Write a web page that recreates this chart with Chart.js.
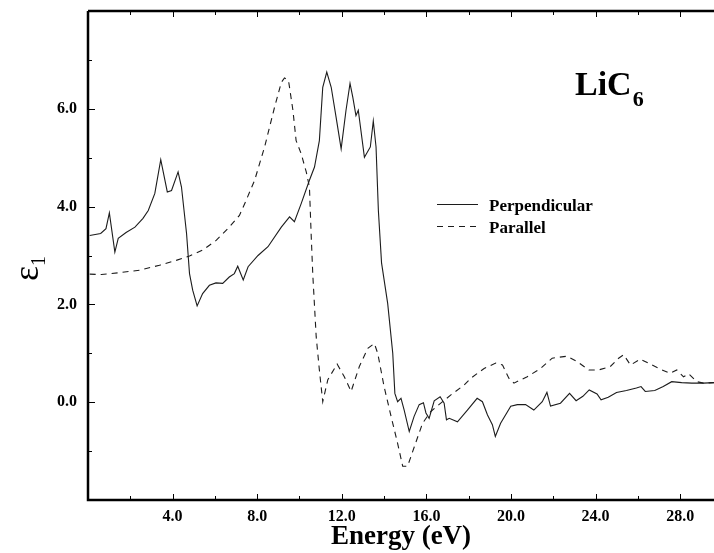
<!DOCTYPE html>
<html>
<head>
<meta charset="utf-8">
<script src="https://cdn.jsdelivr.net/npm/chart.js@4.4.1/dist/chart.umd.min.js"></script>
<style>
  html, body { margin: 0; padding: 0; background: #fff; }
</style>
</head>
<body>
<canvas id="eps" width="714" height="553"></canvas>
<script>

const perpEnergy = [0.08, 0.6, 0.85, 1.01, 1.27, 1.43, 1.8, 2.22, 2.6, 2.85, 3.16, 3.44, 3.75, 3.95, 4.26, 4.42, 4.66, 4.8, 4.95, 5.16,
  5.42, 5.74, 6.05, 6.37, 6.68, 6.92, 7.08, 7.34, 7.57, 8.04, 8.51, 9.14, 9.53, 9.76, 10.08, 10.47, 10.71, 10.94, 11.1, 11.29,
  11.5, 11.73, 11.97, 12.2, 12.39, 12.52, 12.67, 12.78, 13.07, 13.35, 13.49, 13.62, 13.73, 13.88, 14.17, 14.41, 14.51, 14.64, 14.8, 14.95,
  15.19, 15.42, 15.66, 15.86, 15.98, 16.13, 16.37, 16.65, 16.84, 16.95, 17.08, 17.47, 17.94, 18.4, 18.65, 18.89, 19.12, 19.26, 19.51, 19.99,
  20.3, 20.69, 21.08, 21.48, 21.7, 21.87, 22.34, 22.77, 23.08, 23.4, 23.7, 24.07, 24.26, 24.6, 24.99, 25.46, 25.93, 26.15, 26.35, 26.8,
  27.2, 27.6, 28.07, 28.55, 29.1, 29.6];
const perpEps1 = [3.41, 3.45, 3.55, 3.87, 3.07, 3.35, 3.47, 3.58, 3.76, 3.92, 4.27, 4.96, 4.30, 4.33, 4.71, 4.40, 3.45, 2.63, 2.29, 1.97,
  2.22, 2.39, 2.44, 2.43, 2.56, 2.63, 2.78, 2.50, 2.77, 3.00, 3.18, 3.58, 3.79, 3.69, 4.06, 4.54, 4.81, 5.35, 6.44, 6.75,
  6.44, 5.83, 5.18, 5.97, 6.52, 6.24, 5.86, 5.97, 5.01, 5.22, 5.75, 5.22, 3.92, 2.85, 2.02, 1.00, 0.18, 0.01, 0.08, -0.16,
  -0.60, -0.29, -0.05, -0.01, -0.22, -0.33, 0.03, 0.11, -0.02, -0.36, -0.33, -0.40, -0.16, 0.08, 0.01, -0.26, -0.46, -0.70, -0.43, -0.08,
  -0.05, -0.05, -0.16, 0.01, 0.20, -0.08, -0.02, 0.18, 0.03, 0.12, 0.25, 0.17, 0.05, 0.10, 0.20, 0.24, 0.29, 0.32, 0.22, 0.24,
  0.32, 0.42, 0.40, 0.39, 0.39, 0.40];

const paraEnergy = [0.08, 0.63, 1.5, 2.44, 3.38, 4.17, 4.8, 5.42, 6.06, 6.68, 7.16, 7.45, 7.88, 8.35, 8.82, 9.14, 9.29, 9.48, 9.69, 9.84,
  10.08, 10.32, 10.47, 10.55, 10.63, 10.79, 10.94, 11.1, 11.34, 11.78, 12.12, 12.44, 12.83, 13.23, 13.54, 13.7, 14.0, 14.33, 14.64, 14.88,
  15.11, 15.43, 15.82, 16.21, 16.68, 17.16, 17.78, 18.1, 18.73, 19.28, 19.6, 19.9, 20.14, 20.77, 21.4, 21.95, 22.26, 22.66, 23.13, 23.68,
  24.15, 24.7, 25.09, 25.33, 25.65, 26.12, 26.67, 27.14, 27.53, 27.84, 28.16, 28.4, 28.79, 29.1, 29.6];
const paraEps1 = [2.62, 2.61, 2.65, 2.70, 2.80, 2.90, 2.99, 3.11, 3.31, 3.58, 3.82, 4.10, 4.54, 5.22, 6.03, 6.54, 6.63, 6.58, 5.97, 5.35,
  5.08, 4.71, 4.40, 3.45, 2.60, 1.34, 0.66, 0.01, 0.46, 0.78, 0.52, 0.22, 0.73, 1.10, 1.20, 1.00, 0.32, -0.29, -0.84, -1.31,
  -1.31, -0.91, -0.43, -0.19, -0.02, 0.15, 0.35, 0.49, 0.69, 0.80, 0.76, 0.49, 0.39, 0.52, 0.69, 0.90, 0.92, 0.94, 0.83, 0.66,
  0.66, 0.73, 0.90, 0.97, 0.76, 0.88, 0.76, 0.66, 0.59, 0.66, 0.52, 0.58, 0.42, 0.39, 0.40];

const seriesNames = ["Perpendicular", "Parallel"];
const xRange = [0, 29.6];
const yRange = [-2, 8];
const xMinorStep = 2;
const yMinorStep = 1;

const INK = "#1c1c1c";
const SERIF = "'Liberation Serif', 'Times New Roman', serif";

function toPoints(xs, ys) {
  return xs.map((x, i) => ({ x, y: ys[i] }));
}

// frame, inward tick marks, legend and labels inside the plot
const decor = {
  id: "decor",
  afterDraw(chart) {
    const { ctx, chartArea: a, scales } = chart;
    const xs = scales.x, ys = scales.y;
    ctx.save();
    ctx.strokeStyle = "#000";
    ctx.lineWidth = 2.5;
    ctx.beginPath();
    ctx.moveTo(a.left, a.top);
    ctx.lineTo(a.right + 2, a.top);
    ctx.moveTo(a.left, a.top);
    ctx.lineTo(a.left, a.bottom);
    ctx.lineTo(a.right + 2, a.bottom);
    ctx.stroke();

    ctx.lineWidth = 1;
    ctx.beginPath();
    for (let v = yRange[0] + yMinorStep; v < yRange[1]; v += yMinorStep) {
      const py = Math.round(ys.getPixelForValue(v)) + 0.5;
      const len = v % 2 === 0 ? 7 : 4;
      ctx.moveTo(a.left, py);
      ctx.lineTo(a.left + len, py);
    }
    for (let v = xMinorStep; v < xRange[1]; v += xMinorStep) {
      const px = Math.round(xs.getPixelForValue(v)) + 0.5;
      const len = v % 4 === 0 ? 6 : 4;
      ctx.moveTo(px, a.bottom);
      ctx.lineTo(px, a.bottom - len);
      ctx.moveTo(px, a.top);
      ctx.lineTo(px, a.top + len);
    }
    ctx.stroke();

    // legend
    const lx = 437, lw = 41, rows = [204, 226];
    ctx.strokeStyle = INK;
    ctx.lineWidth = 1.1;
    chart.data.datasets.forEach((ds, i) => {
      ctx.setLineDash(ds.borderDash || []);
      ctx.beginPath();
      ctx.moveTo(lx, rows[i] + 0.5);
      ctx.lineTo(lx + lw, rows[i] + 0.5);
      ctx.stroke();
    });
    ctx.setLineDash([]);
    ctx.fillStyle = "#000";
    ctx.font = "bold 17px " + SERIF;
    ctx.textBaseline = "alphabetic";
    ctx.textAlign = "left";
    seriesNames.forEach((name, i) => ctx.fillText(name, 489, rows[i] + 7));

    // compound label
    ctx.font = "bold 34px " + SERIF;
    ctx.fillText("LiC", 575, 95);
    const w = ctx.measureText("LiC").width;
    ctx.font = "bold 22px " + SERIF;
    ctx.fillText("6", 575 + w + 1, 106);

    // y axis title, epsilon with subscript 1
    ctx.translate(38, 281);
    ctx.rotate(-Math.PI / 2);
    ctx.font = "36px " + SERIF;
    ctx.fillText("\u03b5", 0, 0);
    const ew = ctx.measureText("\u03b5").width;
    ctx.font = "20px " + SERIF;
    ctx.fillText("1", ew, 7);
    ctx.restore();
  },
};

new Chart(document.getElementById("eps"), {
  type: "line",
  data: {
    datasets: [
      {
        label: seriesNames[0],
        data: toPoints(perpEnergy, perpEps1),
        borderColor: INK,
        borderWidth: 1.1,
        pointRadius: 0,
        tension: 0,
        fill: false,
      },
      {
        label: seriesNames[1],
        data: toPoints(paraEnergy, paraEps1),
        borderColor: INK,
        borderWidth: 1.1,
        borderDash: [6, 5],
        pointRadius: 0,
        tension: 0,
        fill: false,
      },
    ],
  },
  options: {
    responsive: false,
    animation: false,
    devicePixelRatio: 1,
    layout: { padding: { top: 11, right: 0, left: 0, bottom: 0 } },
    plugins: { legend: { display: false }, tooltip: { enabled: false } },
    scales: {
      x: {
        type: "linear",
        min: xRange[0],
        max: xRange[1],
        grid: { display: false, drawTicks: false },
        border: { display: false },
        afterFit: (s) => {
          s.height = 53;
          s.paddingLeft = 0;
          s.paddingRight = 0;
        },
        ticks: {
          stepSize: 4,
          includeBounds: false,
          autoSkip: false,
          maxRotation: 0,
          padding: 7,
          color: "#000",
          font: { family: SERIF, size: 16, weight: "bold" },
          callback: (v) => (v === 0 ? "" : v.toFixed(1)),
        },
        title: {
          display: true,
          text: "Energy (eV)",
          color: "#000",
          font: { family: SERIF, size: 27, weight: "bold" },
          padding: { top: 0, bottom: 0 },
        },
      },
      y: {
        min: yRange[0],
        max: yRange[1],
        grid: { display: false, drawTicks: false },
        border: { display: false },
        afterFit: (s) => {
          s.width = 88;
          s.paddingTop = 0;
          s.paddingBottom = 0;
        },
        ticks: {
          stepSize: 2,
          autoSkip: false,
          padding: 11,
          color: "#000",
          font: { family: SERIF, size: 16, weight: "bold" },
          callback: (v) => (v === yRange[0] || v === yRange[1] ? "" : v.toFixed(1)),
        },
      },
    },
  },
  plugins: [decor],
});
</script>
</body>
</html>
